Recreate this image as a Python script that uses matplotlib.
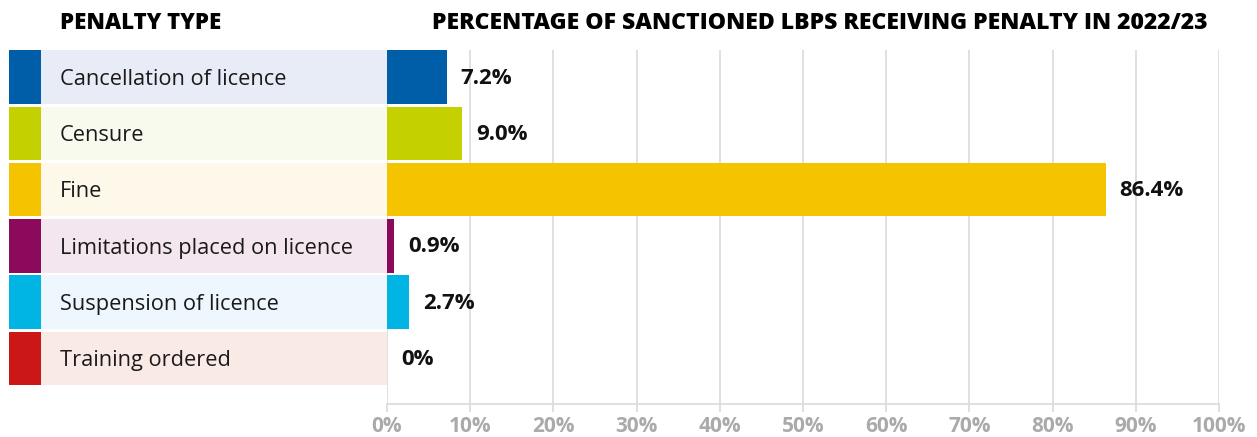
import matplotlib.pyplot as plt
from matplotlib.patches import Rectangle

plt.rcParams['font.family'] = ['Open Sans', 'DejaVu Sans']

penalties = ["Cancellation of licence", "Censure", "Fine",
             "Limitations placed on licence", "Suspension of licence",
             "Training ordered"]
percent = [7.2, 9.0, 86.4, 0.9, 2.7, 0.0]
value_labels = ["7.2%", "9.0%", "86.4%", "0.9%", "2.7%", "0%"]
tick_values = [0, 10, 20, 30, 40, 50, 60, 70, 80, 90, 100]
tick_labels = ["0%", "10%", "20%", "30%", "40%", "50%", "60%", "70%",
               "80%", "90%", "100%"]

colors = ["#005EA8", "#C4D000", "#F5C400", "#8C0A5C", "#00B4E3", "#CC1719"]
light = ["#E8ECF7", "#F9FAEE", "#FEF8EB", "#F3E6EF", "#EEF7FD", "#FAEAE5"]

W, H = 1257, 437
fig = plt.figure(figsize=(W / 100, H / 100), dpi=100)

# pixel -> figure fraction helpers
def fx(px):
    return px / W

def fy(py):
    return 1 - py / H

top, bottom = 50, 404
ymin, ymax = 5 + 0.81, -0.48
y = list(range(len(penalties)))

ax = fig.add_axes([fx(387), fy(bottom), fx(1219) - fx(387), fy(top) - fy(bottom)])
ax.barh(y, percent, height=0.95, color=colors, zorder=3)
for yi, v, lab in zip(y, percent, value_labels):
    ax.annotate(lab, (v, yi + 0.02), xytext=(10, 0), textcoords="offset points",
                ha="left", va="center", fontsize=16, fontweight="bold",
                color="#111111", zorder=4)
ax.set_xlim(0, 100)
ax.set_ylim(ymin, ymax)
ax.set_yticks([])
ax.set_xticks(tick_values)
ax.set_xticklabels(tick_labels, fontsize=15, fontweight="bold", color="#AAAAAA")
ax.tick_params(axis="x", length=6, width=1.3, color="#DDDDDD", pad=3)
ax.grid(axis="x", color="#DDDDDD", linewidth=1.3, zorder=0)
for s in ["top", "right", "left"]:
    ax.spines[s].set_visible(False)
ax.spines["bottom"].set_color("#DDDDDD")
ax.spines["bottom"].set_linewidth(1.3)

# table on the left
tab = fig.add_axes([fx(9), fy(bottom), fx(387) - fx(9), fy(top) - fy(bottom)])
tab.set_xlim(0, 378)
tab.set_ylim(ymin, ymax)
tab.axis("off")
for yi, name, c, lc in zip(y, penalties, colors, light):
    tab.add_patch(Rectangle((0, yi - 0.475), 32, 0.95, color=c, lw=0))
    tab.add_patch(Rectangle((32, yi - 0.475), 346, 0.95, color=lc, lw=0))
    tab.text(51, yi + 0.04, name, ha="left", va="center", fontsize=15.7, color="#1a1a1a")

fig.text(fx(60), fy(23), "PENALTY TYPE", ha="left", va="center",
         fontsize=16, fontweight=800, color="#000000")
fig.text(fx(432), fy(23), "PERCENTAGE OF SANCTIONED LBPS RECEIVING PENALTY IN 2022/23",
         ha="left", va="center", fontsize=16.6, fontweight=800, color="#000000")

fig.savefig("out.png", dpi=100)
